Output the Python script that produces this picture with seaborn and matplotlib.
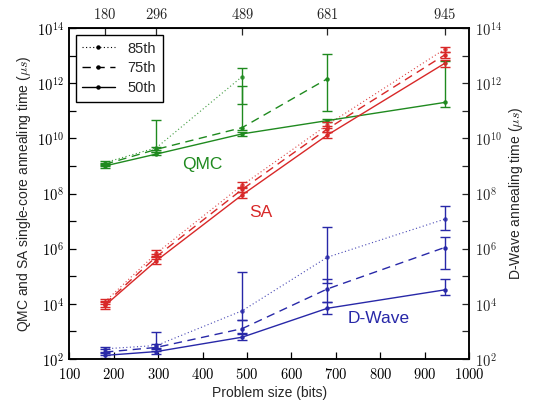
import matplotlib
matplotlib.use("Agg")
import matplotlib.pyplot as plt
from matplotlib.lines import Line2D
from matplotlib.ticker import FixedLocator, FixedFormatter, NullLocator
import numpy as np
import pandas as pd
import seaborn as sns

# ---------------- data ----------------
sizes = [180, 296, 489, 681, 945]
top_ticks = [180, 296, 489, 681, 945]
percentiles = ["85th", "75th", "50th"]

# QMC (left axis)
qmc_50 = [1.0e9, 2.7e9, 1.45e10, 4.4e10, 2.0e11]
qmc_50_lo = [8.5e8, 2.4e9, 1.26e10, 3.8e10, 1.35e11]
qmc_50_hi = [1.12e9, 3.2e9, 1.66e10, 5.2e10, 6.3e12]
qmc_75_sizes = [180, 296, 489, 681]
qmc_75 = [1.15e9, 4.0e9, 2.45e10, 1.45e12]
qmc_75_lo = [1.0e9, 3.3e9, 2.0e10, 9.8e10]
qmc_75_hi = [1.32e9, 4.8e9, 7.9e11, 1.15e13]
qmc_85_sizes = [180, 296, 489]
qmc_85 = [1.32e9, 4.6e9, 1.74e12]
qmc_85_lo = [1.15e9, 3.8e9, 1.78e11]
qmc_85_hi = [1.5e9, 4.7e10, 3.6e12]

# SA (left axis)
sa_50 = [8.7e3, 3.7e5, 8.9e7, 1.32e10, 5.2e12]
sa_50_lo = [6.6e3, 2.8e5, 6.8e7, 1.0e10, 4.0e12]
sa_50_hi = [1.15e4, 4.9e5, 1.17e8, 1.74e10, 6.9e12]
sa_75 = [1.0e4, 5.2e5, 1.41e8, 2.2e10, 1.05e13]
sa_75_lo = [7.9e3, 4.2e5, 1.12e8, 1.74e10, 8.3e12]
sa_75_hi = [1.26e4, 6.6e5, 1.78e8, 2.75e10, 1.32e13]
sa_85 = [1.2e4, 6.9e5, 2.0e8, 3.1e10, 1.7e13]
sa_85_lo = [9.5e3, 5.5e5, 1.58e8, 2.4e10, 1.32e13]
sa_85_hi = [1.5e4, 8.7e5, 2.6e8, 4.0e10, 2.1e13]

# D-Wave (right axis, same scale)
dw_50 = [135, 186, 617, 6.9e3, 3.2e4]
dw_50_lo = [112, 151, 501, 4.27e3, 2.14e4]
dw_50_hi = [166, 229, 794, 1.15e4, 7.9e4]
dw_75 = [178, 263, 1.26e3, 3.47e4, 1.1e6]
dw_75_lo = [141, 200, 891, 1.15e4, 1.8e5]
dw_75_hi = [224, 355, 2.5e3, 7.9e4, 2.75e6]
dw_85 = [234, 309, 5.6e3, 4.9e5, 1.17e7]
dw_85_lo = [178, 251, 2.5e3, 5.9e4, 4.8e6]
dw_85_hi = [275, 933, 1.4e5, 6.0e6, 3.6e7]

colors = {"QMC": "#1f8a1f", "SA": "#d82828", "D-Wave": "#2828a8"}

series = [
    ("QMC", "85th", qmc_85_sizes, qmc_85, qmc_85_lo, qmc_85_hi),
    ("QMC", "75th", qmc_75_sizes, qmc_75, qmc_75_lo, qmc_75_hi),
    ("QMC", "50th", sizes, qmc_50, qmc_50_lo, qmc_50_hi),
    ("SA", "85th", sizes, sa_85, sa_85_lo, sa_85_hi),
    ("SA", "75th", sizes, sa_75, sa_75_lo, sa_75_hi),
    ("SA", "50th", sizes, sa_50, sa_50_lo, sa_50_hi),
    ("D-Wave", "85th", sizes, dw_85, dw_85_lo, dw_85_hi),
    ("D-Wave", "75th", sizes, dw_75, dw_75_lo, dw_75_hi),
    ("D-Wave", "50th", sizes, dw_50, dw_50_lo, dw_50_hi),
]

rows = []
for m, p, xs, ys, lo, hi in series:
    for x, y, l, h in zip(xs, ys, lo, hi):
        rows.append({"size": x, "time": y, "lo": l, "hi": h, "method": m, "pct": p})
df = pd.DataFrame(rows)

# ---------------- style ----------------
sns.set_style("ticks")
plt.rcParams["font.family"] = ["Liberation Sans", "DejaVu Sans"]
plt.rcParams["mathtext.fontset"] = "cm"

fig = plt.figure(figsize=(5.4, 4.03), dpi=100)
ax = fig.add_axes([0.1287, 0.1092, 0.8685 - 0.1287, 0.9305 - 0.1092])
ax.set_yscale("log")

line_styles = {"85th": (0, (1, 2.2)), "75th": (0, (6, 4)), "50th": "-"}
line_widths = {"85th": 0.8, "75th": 1.0, "50th": 1.0}
line_alpha = {"85th": 0.85, "75th": 1.0, "50th": 1.0}

for p in percentiles:
    sub = df[df["pct"] == p]
    sns.lineplot(data=sub, x="size", y="time", hue="method", palette=colors,
                 linestyle=line_styles[p], linewidth=line_widths[p],
                 alpha=line_alpha[p], marker="o", markersize=3.2,
                 markeredgewidth=0, estimator=None, sort=False, legend=False,
                 ax=ax)

for m, p, xs, ys, lo, hi in series:
    ys_a = np.array(ys)
    ax.errorbar(xs, ys, yerr=[ys_a - np.array(lo), np.array(hi) - ys_a],
                fmt="none", ecolor=colors[m], elinewidth=1, capsize=3.5,
                capthick=1)

ax.set_xlim(100, 1000)
ax.set_ylim(1e2, 1e14)

xt = list(range(100, 1001, 100))
ax.xaxis.set_major_locator(FixedLocator(xt))
ax.xaxis.set_major_formatter(FixedFormatter([f"${v}$" for v in xt]))
ax.xaxis.set_minor_locator(NullLocator())

decades = [10.0 ** k for k in range(2, 15)]
dlabels = [f"$10^{{{k}}}$" if k % 2 == 0 else "" for k in range(2, 15)]
ax.yaxis.set_major_locator(FixedLocator(decades))
ax.yaxis.set_major_formatter(FixedFormatter(dlabels))
ax.yaxis.set_minor_locator(NullLocator())

ax.tick_params(axis="both", which="major", direction="in", length=5,
               width=0.9, labelsize=10.5, colors="black", pad=6)
ax.tick_params(axis="y", right=False, pad=4)
ax.set_xlabel("Problem size (bits)", fontsize=10, labelpad=3)
ax.set_ylabel(r"QMC and SA single-core annealing time ($\mu s$)", fontsize=10,
              labelpad=3)
for s in ax.spines.values():
    s.set_visible(True)
    s.set_linewidth(1.1)
    s.set_color("black")

# right axis (D-Wave)
ax2 = ax.twinx()
ax2.set_yscale("log")
ax2.set_ylim(1e2, 1e14)
ax2.yaxis.set_major_locator(FixedLocator(decades))
ax2.yaxis.set_major_formatter(FixedFormatter(dlabels))
ax2.yaxis.set_minor_locator(NullLocator())
ax2.tick_params(axis="y", direction="in", length=5, width=0.9,
                labelsize=10.5, pad=4)
ax2.set_ylabel(r"D-Wave annealing time ($\mu s$)", fontsize=10, labelpad=4)
for s in ax2.spines.values():
    s.set_linewidth(1.1)
    s.set_color("black")

# top axis
sec = ax.secondary_xaxis("top")
sec.xaxis.set_major_locator(FixedLocator(top_ticks))
sec.xaxis.set_major_formatter(FixedFormatter([f"${v}$" for v in top_ticks]))
sec.tick_params(direction="in", length=5, width=0.9, labelsize=10.5, pad=4)

# method labels
ax.text(354, 1.1e9, "QMC", color=colors["QMC"], fontsize=12.5, ha="left", va="center")
ax.text(504, 2.0e7, "SA", color=colors["SA"], fontsize=12.5, ha="left", va="center")
ax.text(727, 2.9e3, "D-Wave", color=colors["D-Wave"], fontsize=12.5, ha="left", va="center")

# legend
handles = [Line2D([0], [0], color="black", lw=line_widths[p], linestyle=line_styles[p],
                  marker="o", markersize=3.2, markeredgewidth=0)
           for p in percentiles]
leg = ax.legend(handles, percentiles, loc="upper left", fontsize=10.5,
                fancybox=False, frameon=True, edgecolor="black", framealpha=1,
                handlelength=2.2, numpoints=1, borderpad=0.45,
                labelspacing=0.4, handletextpad=0.9, borderaxespad=0,
                bbox_to_anchor=(0.016, 0.979))
leg.get_frame().set_linewidth(1.0)

fig.savefig("out.png", dpi=100)
